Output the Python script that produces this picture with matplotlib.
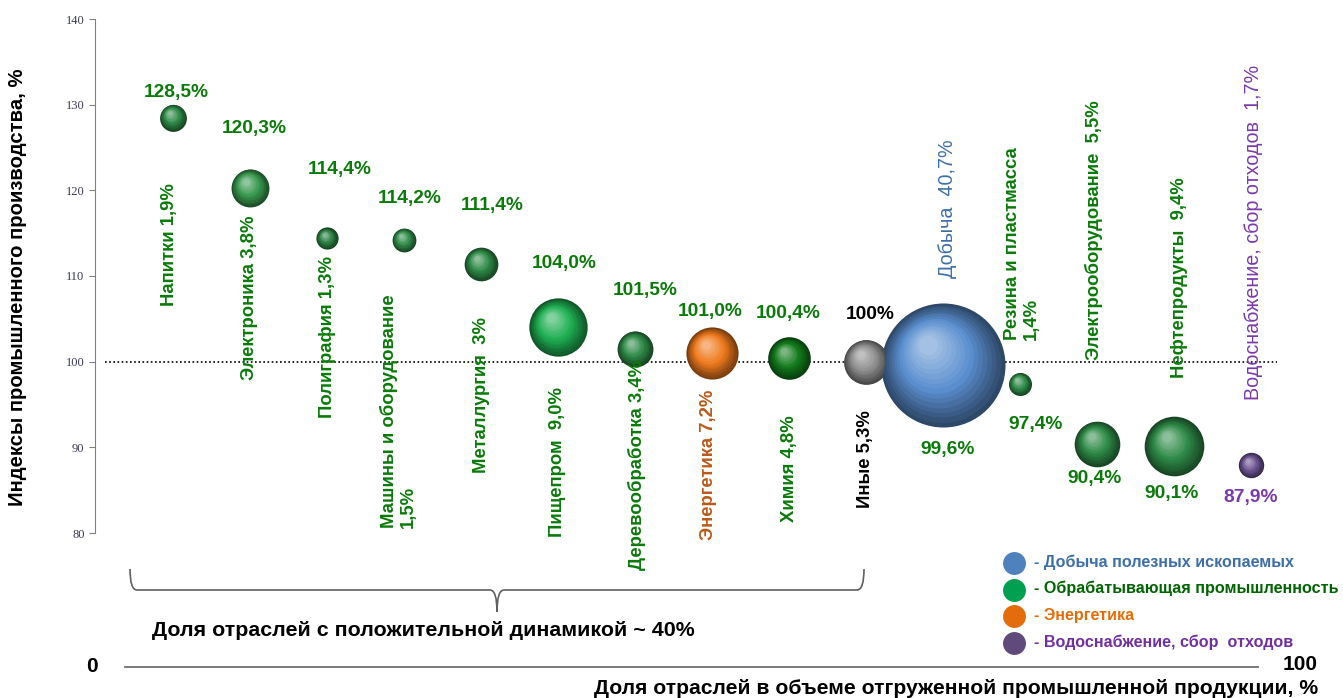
import numpy as np
import matplotlib
matplotlib.use("Agg")
import matplotlib.pyplot as plt
from matplotlib import transforms
from matplotlib.path import Path
from matplotlib.patches import PathPatch
from matplotlib.colors import to_rgb

plt.rcParams['font.family'] = ['Liberation Sans', 'DejaVu Sans']

## data

sectors = ["Напитки", "Электроника", "Полиграфия", "Машины и оборудование",
           "Металлургия", "Пищепром", "Деревообработка", "Энергетика",
           "Химия", "Иные", "Добыча", "Резина и пластмасса",
           "Электрооборудование", "Нефтепродукты", "Водоснабжение, сбор отходов"]
index_vals = [128.5, 120.3, 114.4, 114.2, 111.4, 104.0, 101.5, 101.0,
              100.4, 100.0, 99.6, 97.4, 90.4, 90.1, 87.9]
shares = [1.9, 3.8, 1.3, 1.5, 3.0, 9.0, 3.4, 7.2, 4.8, 5.3, 40.7, 1.4, 5.5, 9.4, 1.7]
value_labels = ["128,5%", "120,3%", "114,4%", "114,2%", "111,4%", "104,0%", "101,5%",
                "101,0%", "100,4%", "100%", "99,6%", "97,4%", "90,4%", "90,1%", "87,9%"]
cat_labels = ["Напитки 1,9%", "Электроника 3,8%", "Полиграфия 1,3%",
              "Машины и оборудование\n1,5%", "Металлургия  3%", "Пищепром  9,0%",
              "Деревообработка 3,4%", "Энергетика 7,2%", "Химия 4,8%", "Иные 5,3%",
              "Добыча  40,7%", "Резина и пластмасса\n1,4%", "Электрооборудование  5,5%",
              "Нефтепродукты  9,4%", "Водоснабжение, сбор отходов  1,7%"]
legend_labels = ["- Добыча полезных ископаемых", "- Обрабатывающая промышленность",
                 "- Энергетика", "- Водоснабжение, сбор  отходов"]

## layout / style (kept apart from the data)

GREEN_TXT = "#0a7a0a"
bubble_cols = ["#2f8a48", "#3a9a50", "#2a7f42", "#2f8a48", "#2f8a48", "#1fae52",
               "#2f8a48", "#ee7a1e", "#137a1c", "#8e8e8e", "#5b8fd0", "#2f8a48",
               "#2f8a48", "#2f8a48", "#6a5290"]
val_cols = [GREEN_TXT] * 9 + ["black", GREEN_TXT, GREEN_TXT, GREEN_TXT, GREEN_TXT, "#7a3aa8"]
cat_cols = [GREEN_TXT] * 7 + ["#b85a1a", GREEN_TXT, "black", "#3d6fa8",
                              GREEN_TXT, GREEN_TXT, GREEN_TXT, "#7a3aa8"]
cat_bold = [True] * 10 + [False, True, True, True, False]
# label anchor positions (x shift in category units, y in axis units)
val_dx = [0.04, 0.05, 0.17, 0.08, 0.14, 0.08, 0.13, -0.03, -0.01, 0.05, 0.06, 0.2, -0.03, -0.03, -0.01]
val_y = [131.4, 127.2, 122.4, 119.1, 118.2, 111.5, 108.3, 105.9, 105.6, 105.5,
         89.7, 92.7, 86.4, 84.6, 84.1]
cat_dx = [-0.04, 0.0, 0.01, -0.07, 0.01, -0.01, 0.03, -0.05, 0.01, -0.01, 0.06, 0.03, -0.04, 0.07, 0.03]
cat_y = [106.5, 97.9, 93.4, 80.6, 87.0, 79.5, 75.7, 79.2, 81.3, 82.9,
         109.8, 102.5, 100.2, 98.1, 95.5]
legend_cols = ["#4f81bd", "#00a050", "#e46c0a", "#604a7b"]
legend_txt_cols = ["#3d6fa8", "#006400", "#e46c0a", "#7030a0"]

W, H = 1343, 698


def fx(px):
    return px / W


def fy(py):
    return 1 - py / H


def blend(c1, c2, t):
    a = np.array(to_rgb(c1))
    b = np.array(to_rgb(c2))
    return tuple(a + (b - a) * t)


def sphere(ax, fig, x, y, s, col):
    # fake 3d ball: stacked circles shifted to the upper-left highlight
    r = np.sqrt(s) / 2.0
    dark = blend(col, "black", 0.5)
    light = blend(col, "white", 0.5)
    n = 16
    for i in range(n):
        t = i / n
        ri = r * (1 - 0.9 * t)
        if t < 0.45:
            c = blend(dark, col, t / 0.45)
        else:
            c = blend(col, light, (t - 0.45) / 0.55)
        tr = transforms.offset_copy(ax.transData, fig=fig, x=-0.25 * r * t,
                                    y=0.35 * r * t, units='points')
        ax.scatter([x], [y], s=(2 * ri) ** 2, color=c, linewidths=0,
                   transform=tr, zorder=3 + i * 0.01, clip_on=False)


fig = plt.figure(figsize=(13.43, 6.98), dpi=100)
ax = fig.add_axes([fx(95), fy(533), fx(1290) - fx(95), fy(19) - fy(533)])

xs = np.arange(len(sectors))
x_lo = (95 - 173) / 77.0
x_hi = (1290 - 173) / 77.0
ax.set_xlim(x_lo, x_hi)
ax.set_ylim(80, 140)

for sp in ["top", "right", "bottom"]:
    ax.spines[sp].set_visible(False)
ax.spines["left"].set_color("#808080")
ax.set_xticks([])
ax.set_yticks([80, 90, 100, 110, 120, 130, 140])
ax.tick_params(axis="y", length=4, color="#808080", labelsize=9, labelcolor="#3a3a55")
for lab in ax.get_yticklabels():
    lab.set_fontfamily("Liberation Serif")

ax.axhline(100, xmin=(105 - 95) / 1195.0, xmax=(1277 - 95) / 1195.0,
           color="black", ls=(0, (1, 1.5)), lw=1.2, zorder=2)

for i in range(len(sectors)):
    sphere(ax, fig, xs[i], index_vals[i], 196 * shares[i], bubble_cols[i])
    ax.text(xs[i] + val_dx[i], val_y[i], value_labels[i], color=val_cols[i],
            fontsize=13.8, fontweight="bold", ha="center", va="center", zorder=6)
    ax.text(xs[i] + cat_dx[i], cat_y[i], cat_labels[i], color=cat_cols[i],
            fontsize=13.3 if cat_bold[i] else 14.2,
            fontweight="bold" if cat_bold[i] else "normal",
            rotation=90, ha="center", va="bottom", multialignment="left",
            linespacing=1.15, zorder=6, clip_on=False)

fig.text(fx(18), fy(287), "Индексы промышленного производства, %", rotation=90,
         fontsize=14.6, fontweight="bold", ha="center", va="center")

# brace under the growing sectors
verts = [(fx(130), fy(569)), (fx(130), fy(590)), (fx(137), fy(590)),
         (fx(490), fy(590)), (fx(497), fy(590)), (fx(497), fy(612)),
         (fx(497), fy(590)), (fx(504), fy(590)), (fx(857), fy(590)),
         (fx(864), fy(590)), (fx(864), fy(569))]
codes = [Path.MOVETO, Path.CURVE3, Path.CURVE3, Path.LINETO, Path.CURVE3, Path.CURVE3,
         Path.CURVE3, Path.CURVE3, Path.LINETO, Path.CURVE3, Path.CURVE3]
fig.add_artist(PathPatch(Path(verts, codes), fill=False, ec="#606060", lw=1.2,
                         transform=fig.transFigure))
fig.text(fx(152), fy(630), "Доля отраслей с положительной динамикой ~ 40%",
         fontsize=15.4, fontweight="bold", ha="left", va="center")

# bottom share axis
fig.add_artist(plt.Line2D([fx(125), fx(1258)], [fy(667), fy(667)], color="#707070",
                          lw=1.3, transform=fig.transFigure))
fig.text(fx(92), fy(667), "0", fontsize=15, fontweight="bold", ha="center", va="center")
fig.text(fx(1300), fy(665), "100", fontsize=15, fontweight="bold", ha="center", va="center")
fig.text(fx(1318), fy(689), "Доля отраслей в объеме отгруженной промышленной продукции, %",
         fontsize=15.2, fontweight="bold", ha="right", va="center")

# legend
for k in range(len(legend_labels)):
    py = 563 + k * 26.7
    fig.add_artist(plt.Line2D([fx(1014)], [fy(py)], marker="o", ms=16.5, mew=0,
                              color=legend_cols[k], transform=fig.transFigure))
    fig.text(fx(1034), fy(py - 1), legend_labels[k], color=legend_txt_cols[k],
             fontsize=11.6, fontweight="bold", ha="left", va="center")

fig.savefig("out.png", dpi=100)
